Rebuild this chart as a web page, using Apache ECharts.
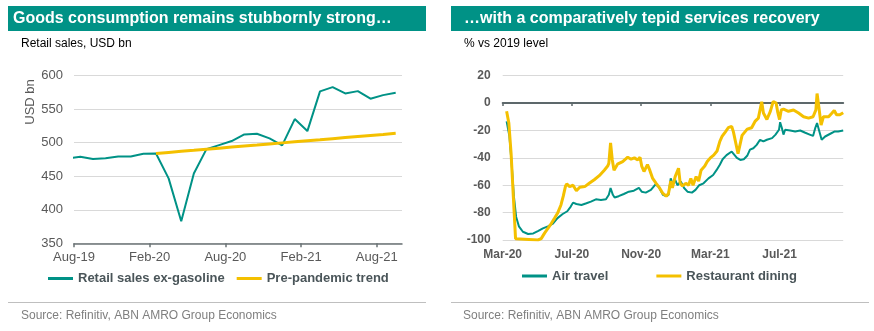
<!DOCTYPE html>
<html>
<head>
<meta charset="utf-8">
<script src="https://cdn.jsdelivr.net/npm/echarts@6/dist/echarts.min.js"></script>
<style>
  html, body { margin: 0; padding: 0; background: #ffffff; }
  #chart { width: 874px; height: 331px; }
</style>
</head>
<body>
<div id="chart"></div>
<script>
// ---- Left panel: US retail sales ex-gasoline (monthly, USD bn) ----
const retailMonths = ['Jul-19','Aug-19','Sep-19','Oct-19','Nov-19','Dec-19','Jan-20','Feb-20','Mar-20','Apr-20',
  'May-20','Jun-20','Jul-20','Aug-20','Sep-20','Oct-20','Nov-20','Dec-20','Jan-21','Feb-21','Mar-21','Apr-21',
  'May-21','Jun-21','Jul-21','Aug-21','Sep-21'];
const retailSales = [476.5, 479, 475.6, 477, 479.6, 479.6, 483.6, 484, 446.8, 383, 454, 490.5, 496.5, 502.5,
  512.4, 513.4, 506.5, 496, 535.3, 517.4, 576.6, 583, 573.6, 577, 565.7, 571, 574.6];

const trendMonths = ['Feb-20','Mar-20','Apr-20','May-20','Jun-20','Jul-20','Aug-20','Sep-20','Oct-20','Nov-20',
  'Dec-20','Jan-21','Feb-21','Mar-21','Apr-21','May-21','Jun-21','Jul-21','Aug-21','Sep-21'];
const trendValues = [484, 485.6, 487.2, 488.7, 490.3, 491.9, 493.5, 495.1, 496.6, 498.2, 499.8, 501.4, 503,
  504.5, 506.1, 507.7, 509.3, 510.9, 512.4, 514];

const retailTickLabels = ['Aug-19', 'Feb-20', 'Aug-20', 'Feb-21', 'Aug-21'];

// ---- Right panel: services activity, % vs 2019 level ----
const airDates = ['2020-03-08','2020-03-13','2020-03-17','2020-03-21','2020-03-25','2020-03-30','2020-04-06',
  '2020-04-15','2020-04-24','2020-05-02','2020-05-11','2020-05-20','2020-05-29','2020-06-06','2020-06-15',
  '2020-06-23','2020-06-29','2020-07-03','2020-07-09','2020-07-18','2020-07-27','2020-08-04','2020-08-13',
  '2020-08-22','2020-08-31','2020-09-05','2020-09-08','2020-09-12','2020-09-15','2020-09-22','2020-10-01',
  '2020-10-10','2020-10-19','2020-10-28','2020-11-02','2020-11-09','2020-11-18','2020-11-26','2020-12-02',
  '2020-12-09','2020-12-15','2020-12-19','2020-12-23','2020-12-26','2020-12-31','2021-01-04','2021-01-10',
  '2021-01-16','2021-01-22','2021-01-30','2021-02-05','2021-02-11','2021-02-18','2021-02-26','2021-03-06',
  '2021-03-12','2021-03-18','2021-03-23','2021-03-30','2021-04-08','2021-04-17','2021-04-23','2021-04-29',
  '2021-05-05','2021-05-10','2021-05-16','2021-05-22','2021-05-28','2021-05-31','2021-06-03','2021-06-09',
  '2021-06-18','2021-06-24','2021-06-30','2021-07-02','2021-07-05','2021-07-08','2021-07-11','2021-07-20',
  '2021-07-29','2021-08-07','2021-08-15','2021-08-24','2021-08-30','2021-09-03','2021-09-06','2021-09-10',
  '2021-09-14','2021-09-20','2021-09-29','2021-10-07','2021-10-13','2021-10-22'];
const airTravel = [-13.4, -24, -44, -68, -83, -90, -94, -95.6, -95.2, -93.5, -91.5, -90, -88, -84, -81, -79,
  -75.6, -72.7, -73.7, -74.4, -73.2, -72, -70.3, -70.8, -70.3, -67, -62, -67, -69, -68, -66.4, -64.7, -64, -62,
  -64.7, -65.4, -63.4, -59.3, -61.5, -67, -68, -67, -55, -58.6, -56, -60, -57.3, -62, -64.7, -65.4, -63.4, -60,
  -58.6, -55, -52.5, -49, -45, -41, -38, -35.4, -40, -41.5, -41, -38.5, -34, -33, -30.5, -26.8, -25.6, -28,
  -26.8, -25.6, -23, -19.5, -14, -18, -23, -19.5, -20, -20.7, -20, -21.5, -23, -24, -18, -14.6, -20.7, -26.8,
  -24.4, -22.4, -20.7, -20.7, -20];

const diningDates = ['2020-03-08','2020-03-12','2020-03-16','2020-03-20','2020-03-24','2020-03-25','2020-05-02',
  '2020-05-08','2020-05-14','2020-05-20','2020-05-26','2020-06-01','2020-06-06','2020-06-12','2020-06-16',
  '2020-06-20','2020-06-22','2020-06-27','2020-07-03','2020-07-09','2020-07-15','2020-07-24','2020-08-01',
  '2020-08-10','2020-08-19','2020-08-28','2020-09-03','2020-09-05','2020-09-08','2020-09-11','2020-09-14',
  '2020-09-20','2020-09-29','2020-10-08','2020-10-14','2020-10-20','2020-10-26','2020-10-30','2020-11-02',
  '2020-11-06','2020-11-12','2020-11-16','2020-11-21','2020-11-27','2020-12-03','2020-12-09','2020-12-15',
  '2020-12-19','2020-12-23','2020-12-26','2020-12-31','2021-01-06','2021-01-09','2021-01-13','2021-01-19',
  '2021-01-24','2021-01-28','2021-02-01','2021-02-06','2021-02-10','2021-02-14','2021-02-20','2021-02-24',
  '2021-03-01','2021-03-07','2021-03-13','2021-03-18','2021-03-22','2021-03-28','2021-04-02','2021-04-08',
  '2021-04-11','2021-04-19','2021-04-26','2021-05-05','2021-05-13','2021-05-19','2021-05-25','2021-05-31',
  '2021-06-03','2021-06-09','2021-06-15','2021-06-20','2021-06-25','2021-06-28','2021-07-01','2021-07-04',
  '2021-07-08','2021-07-17','2021-07-26','2021-08-04','2021-08-13','2021-08-22','2021-08-30','2021-09-04',
  '2021-09-06','2021-09-09','2021-09-13','2021-09-17','2021-09-26','2021-10-02','2021-10-06','2021-10-10',
  '2021-10-16','2021-10-22'];
const restaurantDining = [-6, -14.6, -36.6, -68, -99, -100, -100, -99, -95, -91.5, -88, -84, -80.5, -74.4, -68,
  -60.5, -59, -61, -60, -64, -61.5, -61, -58.6, -56, -53, -49, -46, -44, -29, -41.5, -49, -44.6, -42.7, -39.5,
  -41, -40, -41.5, -39.5, -46, -50, -45, -49, -55, -58.6, -62, -66, -68, -66, -57, -62, -53.7, -47.6, -58.6,
  -60.5, -58.6, -60, -55, -60, -53.7, -57, -49, -46, -42.7, -40, -38, -35, -28, -24.4, -21, -18, -17, -21, -37,
  -23.6, -19, -18, -13.4, -11, 1, -7.3, -12, -6, 1.2, 0, -7, -12, -5, -4.4, -6, -5, -7.3, -10, -11, -10, -5, 7,
  -2.4, -16, -10, -10, -7.3, -5.4, -8.5, -8.5, -7];

const serviceTickLabels = ['Mar-20', 'Jul-20', 'Nov-20', 'Mar-21', 'Jul-21'];
const serviceAxisEnd = '2021-10-22';

// ---- helpers: turn dates into positions on a month-based value axis ----
const MON = ['Jan','Feb','Mar','Apr','May','Jun','Jul','Aug','Sep','Oct','Nov','Dec'];
function monthNumber(label) {            // 'Aug-19' -> absolute month count
  const [m, y] = label.split('-');
  return (2000 + Number(y)) * 12 + MON.indexOf(m);
}
function dayPosition(dateStr) {          // '2020-03-08' -> fractional month count
  const [y, m, d] = dateStr.split('-').map(Number);
  const daysInMonth = new Date(y, m, 0).getDate();
  return y * 12 + (m - 1) + (d - 1) / daysInMonth;
}

const retailStart = monthNumber(retailTickLabels[0]);
const retailData = retailMonths.map((m, i) => [monthNumber(m) - retailStart + 0.5, retailSales[i]]);
const trendData = trendMonths.map((m, i) => [monthNumber(m) - retailStart + 0.5, trendValues[i]]);
const retailTicks = retailTickLabels.map(l => monthNumber(l) - retailStart);
const retailMax = 26;

const serviceStart = monthNumber(serviceTickLabels[0]);
const airData = airDates.map((d, i) => [dayPosition(d) - serviceStart, airTravel[i]]);
const diningData = diningDates.map((d, i) => [dayPosition(d) - serviceStart, restaurantDining[i]]);
const serviceTicks = serviceTickLabels.map(l => monthNumber(l) - serviceStart);
const serviceMax = dayPosition(serviceAxisEnd) - serviceStart;

const GREEN = '#009286';
const YELLOW = '#f4c000';
const TEAL = '#009286';
const FONT = '"Liberation Sans", Arial, sans-serif';
const labelGrey = '#595959';
const legendGrey = '#4a5559';

const chart = echarts.init(document.getElementById('chart'), null, { renderer: 'canvas' });

chart.setOption({
  animation: false,
  backgroundColor: '#ffffff',
  textStyle: { fontFamily: FONT },
  grid: [
    { left: 74, right: 472, top: 75.7, bottom: 87.7, containLabel: false, outerBoundsMode: 'none' },
    { left: 502.7, right: 30.8, top: 75.7, bottom: 91, containLabel: false, outerBoundsMode: 'none' }
  ],
  xAxis: [
    {
      gridIndex: 0, type: 'value', min: 0, max: retailMax, interval: 6, position: 'bottom',
      axisLine: { show: true, onZero: false, lineStyle: { color: '#6b7376', width: 1.5 } },
      axisTick: { show: true, length: 4, customValues: retailTicks, lineStyle: { color: '#6b7376', width: 1.5 } },
      axisLabel: {
        color: labelGrey, fontSize: 13, margin: 8,
        customValues: retailTicks,
        formatter: v => retailTickLabels[retailTicks.indexOf(Math.round(v))] || ''
      },
      splitLine: { show: false }
    },
    {
      gridIndex: 1, type: 'value', min: 0, max: serviceMax, interval: 4, position: 'bottom',
      axisLine: { show: false, onZero: false },
      axisTick: { show: false },
      axisLabel: {
        color: labelGrey, fontSize: 12, fontWeight: 'bold', margin: 9,
        customValues: serviceTicks,
        formatter: v => serviceTickLabels[serviceTicks.indexOf(Math.round(v))] || ''
      },
      splitLine: { show: false }
    },
    {
      gridIndex: 1, type: 'value', min: 0, max: serviceMax, interval: 4, position: 'bottom',
      axisLine: { show: true, onZero: true, lineStyle: { color: '#5d686b', width: 2 } },
      axisTick: { show: true, length: 3, customValues: serviceTicks, lineStyle: { color: '#5d686b', width: 1.5 } },
      axisLabel: { show: false },
      splitLine: { show: false }
    }
  ],
  yAxis: [
    {
      gridIndex: 0, type: 'value', min: 350, max: 600, interval: 50,
      axisLine: { show: false }, axisTick: { show: false },
      axisLabel: { color: labelGrey, fontSize: 13, margin: 11 },
      splitLine: { show: true, lineStyle: { color: '#d9d9d9', width: 1 } }
    },
    {
      gridIndex: 1, type: 'value', min: -100, max: 20, interval: 20,
      axisLine: { show: false }, axisTick: { show: false },
      axisLabel: { color: labelGrey, fontSize: 12, fontWeight: 'bold', margin: 12 },
      splitLine: { show: true, lineStyle: { color: '#d9d9d9', width: 1 } }
    }
  ],
  legend: [
    {
      data: ['Retail sales ex-gasoline', 'Pre-pandemic trend'],
      left: 48, top: 272, padding: 0, icon: 'rect', itemWidth: 25, itemHeight: 3, itemGap: 12,
      selectedMode: false,
      textStyle: { fontSize: 13, fontWeight: 'bold', color: legendGrey, fontFamily: FONT }
    },
    {
      data: ['Air travel', 'Restaurant dining'],
      left: 522, top: 269.5, padding: 0, icon: 'rect', itemWidth: 25, itemHeight: 3, itemGap: 48,
      selectedMode: false,
      textStyle: { fontSize: 13, fontWeight: 'bold', color: legendGrey, fontFamily: FONT }
    }
  ],
  series: [
    {
      name: 'Retail sales ex-gasoline', type: 'line', xAxisIndex: 0, yAxisIndex: 0,
      data: retailData, showSymbol: false, clip: true,
      lineStyle: { color: GREEN, width: 2 }, itemStyle: { color: GREEN }
    },
    {
      name: 'Pre-pandemic trend', type: 'line', xAxisIndex: 0, yAxisIndex: 0,
      data: trendData, showSymbol: false, clip: true,
      lineStyle: { color: YELLOW, width: 3 }, itemStyle: { color: YELLOW }
    },
    {
      name: 'Air travel', type: 'line', xAxisIndex: 1, yAxisIndex: 1,
      data: airData, showSymbol: false, clip: true,
      lineStyle: { color: GREEN, width: 2 }, itemStyle: { color: GREEN }
    },
    {
      name: 'Restaurant dining', type: 'line', xAxisIndex: 1, yAxisIndex: 1,
      data: diningData, showSymbol: false, clip: true,
      lineStyle: { color: YELLOW, width: 3 }, itemStyle: { color: YELLOW }
    }
  ],
  graphic: [
    // title bars
    { type: 'rect', shape: { x: 8, y: 6, width: 418, height: 25 }, style: { fill: TEAL }, silent: true },
    { type: 'rect', shape: { x: 451, y: 6, width: 418, height: 25 }, style: { fill: TEAL }, silent: true },
    { type: 'text', x: 13, y: 19, silent: true,
      style: { text: 'Goods consumption remains stubbornly strong…', fill: '#ffffff',
               font: 'bold 16px ' + FONT, verticalAlign: 'middle' } },
    { type: 'text', x: 464, y: 19, silent: true,
      style: { text: '…with a comparatively tepid services recovery', fill: '#ffffff',
               font: 'bold 16px ' + FONT, verticalAlign: 'middle' } },
    // subtitles
    { type: 'text', x: 21, y: 44, silent: true,
      style: { text: 'Retail sales, USD bn', fill: '#000000', font: '12px ' + FONT, verticalAlign: 'middle' } },
    { type: 'text', x: 464, y: 44, silent: true,
      style: { text: '% vs 2019 level', fill: '#000000', font: '12px ' + FONT, verticalAlign: 'middle' } },
    // y-axis title of the left panel
    { type: 'text', x: 30, y: 102, rotation: Math.PI / 2, silent: true,
      style: { text: 'USD bn', fill: labelGrey, font: '13px ' + FONT, align: 'center', verticalAlign: 'middle' } },
    // separators and sources
    { type: 'line', shape: { x1: 8, y1: 302.5, x2: 426, y2: 302.5 }, style: { stroke: '#bfbfbf', lineWidth: 1 }, silent: true },
    { type: 'line', shape: { x1: 451, y1: 302.5, x2: 869, y2: 302.5 }, style: { stroke: '#bfbfbf', lineWidth: 1 }, silent: true },
    { type: 'text', x: 21, y: 316, silent: true,
      style: { text: 'Source: Refinitiv, ABN AMRO Group Economics', fill: '#7f7f7f', font: '12px ' + FONT, verticalAlign: 'middle' } },
    { type: 'text', x: 463, y: 316, silent: true,
      style: { text: 'Source: Refinitiv, ABN AMRO Group Economics', fill: '#7f7f7f', font: '12px ' + FONT, verticalAlign: 'middle' } }
  ]
});
</script>
</body>
</html>
